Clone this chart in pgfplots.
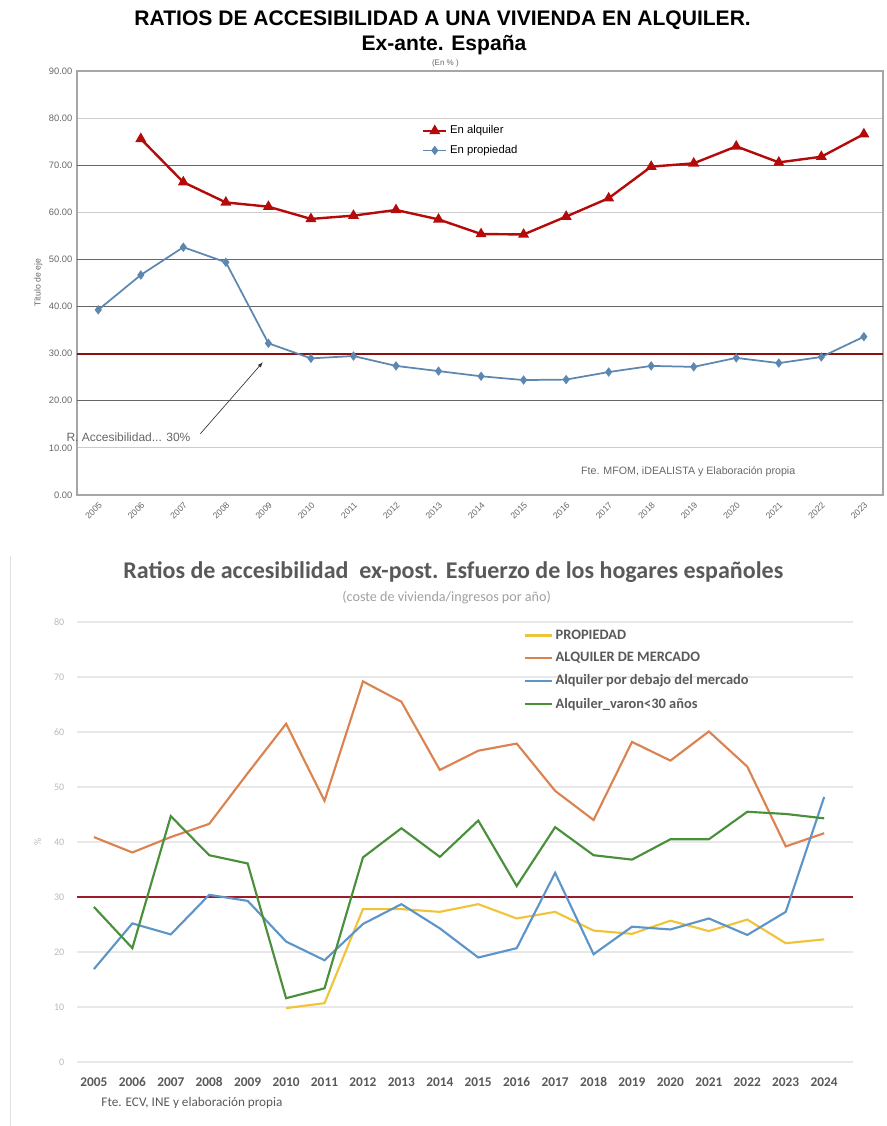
\documentclass[border=0pt]{standalone}
\usepackage{pgfplots}
\pgfplotsset{compat=1.18}
\usepackage{fontspec}
\setmainfont{Liberation Sans}
\newfontfamily\carlito{Carlito}
\usetikzlibrary{arrows.meta}
\definecolor{topred}{HTML}{B40A0A}
\definecolor{topblue}{HTML}{5B87B0}
\definecolor{refred}{HTML}{8C1010}
\definecolor{gtxt}{HTML}{595959}
\definecolor{bor}{HTML}{DB8350}
\definecolor{bblue}{HTML}{5E95C8}
\definecolor{bgreen}{HTML}{4A8F3A}
\definecolor{byellow}{HTML}{F0C438}
\definecolor{bred}{HTML}{9E1B2B}
\begin{document}
\begin{tikzpicture}
\path[use as bounding box] (0pt,0pt) rectangle (664.5pt,-844.5pt);
% ---------- top chart titles ----------
\node[font=\bfseries\fontsize{15.8}{18}\selectfont] at (332pt,-15pt) {RATIOS DE ACCESIBILIDAD A UNA VIVIENDA EN ALQUILER.};
\node[font=\bfseries\fontsize{15.8}{18}\selectfont] at (333pt,-34pt) {Ex-ante. España};
\node[font=\fontsize{6}{7}\selectfont, text=gray!80!black] at (334pt,-47.5pt) {(En \% )};
\begin{axis}[
  at={(57.75pt,-371.25pt)}, anchor=south west,
  scale only axis, width=604.5pt, height=318pt,
  xmin=2004.5, xmax=2023.45, ymin=0, ymax=90,
  xtick={2005,...,2023}, ytick={0,10,...,90},
  axis line style={gray!70, line width=0.8pt},
  major tick length=0pt,
  ymajorgrids, grid style={gray!40, line width=0.6pt},
  extra y ticks={20,40,50,70}, extra y tick labels={},
  extra y tick style={grid style={black!60, line width=1pt}},
  /pgf/number format/assume math mode=true,
  yticklabel style={font=\fontsize{7}{8}\selectfont, text=gray!80!black, /pgf/number format/.cd, fixed, fixed zerofill, precision=2},
  xticklabel style={font=\fontsize{6.5}{8}\selectfont, text=gray!80!black, rotate=45, anchor=north east, /pgf/number format/1000 sep={}},
  ylabel={Título de eje},
  ylabel style={font=\fontsize{6.5}{7}\selectfont, text=gray!80!black, yshift=-2pt},
  legend style={at={(0.423,0.884)}, anchor=north west, draw=none, fill=none, font=\fontsize{8.5}{10}\selectfont, row sep=3pt},
  legend cell align=left,
  clip=false,
]
\addplot[refred, line width=1.4pt, forget plot] coordinates {(2004.5,30) (2023.45,30)};
\addplot[topred, line width=1.8pt, mark=triangle*, mark size=3pt] coordinates {
(2006,75.6) (2007,66.4) (2008,62.1) (2009,61.2) (2010,58.6) (2011,59.3) (2012,60.5)
(2013,58.5) (2014,55.4) (2015,55.3) (2016,59.1) (2017,63.0) (2018,69.7) (2019,70.4)
(2020,74.0) (2021,70.6) (2022,71.8) (2023,76.6)};
\addlegendentry{En alquiler}
\addplot[topblue, line width=1.3pt, mark=diamond*, mark size=2.5pt] coordinates {
(2005,39.3) (2006,46.7) (2007,52.6) (2008,49.4) (2009,32.2) (2010,29.0) (2011,29.5)
(2012,27.4) (2013,26.3) (2014,25.2) (2015,24.4) (2016,24.5) (2017,26.1) (2018,27.4)
(2019,27.2) (2020,29.1) (2021,28.0) (2022,29.3) (2023,33.6)};
\addlegendentry{En propiedad}
\node[font=\fontsize{9}{10}\selectfont, text=gray!80!black, inner sep=1pt] at (axis cs:2005.71,12.3) {R. Accesibilidad... 30\%};
\draw[-{Latex[length=4pt]}, black!80, line width=0.5pt] (axis cs:2007.4,13.0) -- (axis cs:2008.87,28.2);
\node[font=\fontsize{8}{9}\selectfont, text=gray!80!black] at (axis cs:2018.87,4.9) {Fte. MFOM, iDEALISTA y Elaboración propia};
\end{axis}
% ---------- bottom chart titles ----------
\draw[gray!25, line width=0.6pt] (7.5pt,-417pt) -- (7.5pt,-844.5pt);
\node[font=\carlito\bfseries\fontsize{18}{20}\selectfont, text=gtxt] at (340pt,-429pt) {Ratios de accesibilidad\ \ ex-post. Esfuerzo de los hogares españoles};
\node[font=\carlito\fontsize{10.6}{12}\selectfont, text=gray!75] at (335pt,-448.5pt) {(coste de vivienda/ingresos por año)};
\node[font=\carlito\fontsize{9.9}{11}\selectfont, text=gtxt] at (144pt,-827pt) {Fte. ECV, INE y elaboración propia};
\begin{axis}[
  at={(57.75pt,-796.5pt)}, anchor=south west,
  scale only axis, width=582pt, height=330pt,
  xmin=2004.56, xmax=2024.75, ymin=0, ymax=80,
  xtick={2005,...,2024}, ytick={0,10,...,80},
  axis line style={draw=none},
  major tick length=0pt,
  ymajorgrids, grid style={gray!18, line width=0.8pt},
  /pgf/number format/assume math mode=true,
  yticklabel style={font=\carlito\fontsize{7.5}{8}\selectfont, text=gray!55, xshift=-6pt},
  xticklabel style={font=\carlito\bfseries\fontsize{10}{11}\selectfont, text=gtxt, yshift=-8pt, /pgf/number format/1000 sep={}},
  ylabel={\%},
  ylabel style={font=\carlito\fontsize{7.5}{8}\selectfont, text=gray!55, at={(rel axis cs:-0.04,0.5)}},
  legend style={at={(0.57,0.995)}, anchor=north west, draw=none, fill=none, font=\carlito\bfseries\fontsize{10.8}{12}\selectfont, text=gtxt, row sep=4.3pt},
  legend image code/.code={\draw[#1] (0cm,0cm) -- (0.72cm,0cm);},
  legend cell align=left,
  clip=false,
]
\addplot[bred, line width=1.8pt, forget plot] coordinates {(2004.56,30) (2024.75,30)};
\addplot[byellow, line width=1.6pt] coordinates {
(2010,9.8) (2011,10.7) (2012,27.8) (2013,27.8) (2014,27.3) (2015,28.7) (2016,26.1)
(2017,27.3) (2018,23.9) (2019,23.3) (2020,25.7) (2021,23.8) (2022,25.9) (2023,21.6) (2024,22.3)};
\addlegendentry{PROPIEDAD}
\addplot[bor, line width=1.6pt] coordinates {
(2005,40.9) (2006,38.1) (2007,40.9) (2008,43.3) (2009,52.5) (2010,61.5) (2011,47.5)
(2012,69.2) (2013,65.5) (2014,53.1) (2015,56.6) (2016,57.9) (2017,49.3) (2018,44.0)
(2019,58.2) (2020,54.8) (2021,60.1) (2022,53.7) (2023,39.2) (2024,41.6)};
\addlegendentry{ALQUILER DE MERCADO}
\addplot[bblue, line width=1.6pt] coordinates {
(2005,16.9) (2006,25.2) (2007,23.2) (2008,30.4) (2009,29.3) (2010,21.9) (2011,18.5)
(2012,25.1) (2013,28.7) (2014,24.3) (2015,19.0) (2016,20.7) (2017,34.4) (2018,19.6)
(2019,24.6) (2020,24.1) (2021,26.1) (2022,23.1) (2023,27.3) (2024,48.2)};
\addlegendentry{Alquiler por debajo del mercado}
\addplot[bgreen, line width=1.6pt] coordinates {
(2005,28.2) (2006,20.7) (2007,44.7) (2008,37.6) (2009,36.1) (2010,11.6) (2011,13.4)
(2012,37.2) (2013,42.5) (2014,37.3) (2015,43.9) (2016,32.0) (2017,42.7) (2018,37.6)
(2019,36.8) (2020,40.5) (2021,40.5) (2022,45.5) (2023,45.1) (2024,44.3)};
\addlegendentry{Alquiler\_varon<30 años}
\end{axis}
\end{tikzpicture}
\end{document}
